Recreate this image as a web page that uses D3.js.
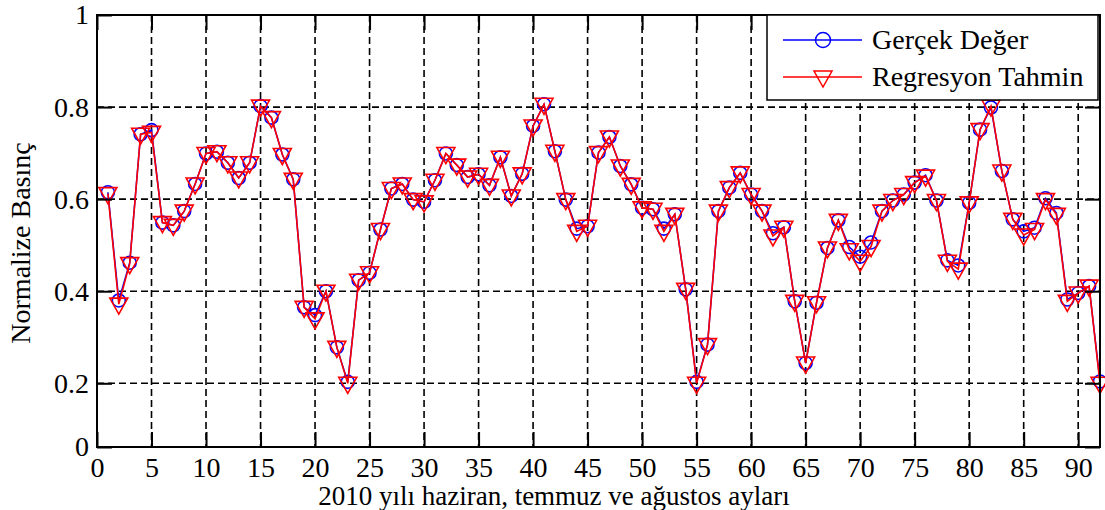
<!DOCTYPE html>
<html>
<head>
<meta charset="utf-8">
<script src="https://cdn.jsdelivr.net/npm/d3@7"></script>
<style>
  html, body { margin: 0; padding: 0; background: #fff; }
  svg { display: block; }
  text { font-family: "Liberation Serif", "Times New Roman", serif; fill: #000; }
</style>
</head>
<body>
<svg id="chart" width="1105" height="510"></svg>
<script>
// Daily normalized pressure, June–August 2010 (days 1..92)
const days = d3.range(1, 93);

const actualValues = [
  0.615, 0.380, 0.462, 0.741, 0.750, 0.549, 0.543, 0.574, 0.633, 0.699,
  0.703, 0.679, 0.646, 0.679, 0.802, 0.777, 0.697, 0.643, 0.365, 0.348,
  0.400, 0.278, 0.203, 0.424, 0.440, 0.534, 0.623, 0.633, 0.599, 0.594,
  0.641, 0.699, 0.674, 0.648, 0.654, 0.630, 0.691, 0.607, 0.655, 0.759,
  0.806, 0.704, 0.599, 0.536, 0.541, 0.701, 0.735, 0.672, 0.632, 0.581,
  0.578, 0.536, 0.567, 0.404, 0.203, 0.284, 0.574, 0.625, 0.657, 0.610,
  0.574, 0.526, 0.539, 0.378, 0.244, 0.375, 0.494, 0.554, 0.496, 0.475,
  0.506, 0.574, 0.597, 0.610, 0.636, 0.652, 0.597, 0.467, 0.456, 0.592,
  0.751, 0.799, 0.661, 0.556, 0.530, 0.538, 0.602, 0.570, 0.382, 0.396,
  0.411, 0.204
];

const predictedValues = [
  0.612, 0.372, 0.460, 0.741, 0.745, 0.549, 0.543, 0.574, 0.633, 0.699,
  0.703, 0.679, 0.646, 0.679, 0.802, 0.777, 0.697, 0.643, 0.365, 0.340,
  0.400, 0.278, 0.200, 0.424, 0.440, 0.534, 0.623, 0.633, 0.599, 0.594,
  0.641, 0.699, 0.674, 0.648, 0.654, 0.630, 0.691, 0.607, 0.655, 0.759,
  0.806, 0.704, 0.599, 0.530, 0.541, 0.701, 0.735, 0.672, 0.632, 0.581,
  0.578, 0.530, 0.567, 0.404, 0.200, 0.284, 0.574, 0.625, 0.657, 0.610,
  0.574, 0.520, 0.539, 0.378, 0.244, 0.375, 0.494, 0.554, 0.490, 0.465,
  0.497, 0.574, 0.597, 0.610, 0.636, 0.650, 0.597, 0.465, 0.448, 0.592,
  0.751, 0.802, 0.661, 0.556, 0.522, 0.534, 0.599, 0.567, 0.378, 0.396,
  0.411, 0.200
];

const xTicks = d3.range(0, 91, 5);
const yTicks = [0, 0.2, 0.4, 0.6, 0.8, 1];
const yTickLabels = ["0", "0.2", "0.4", "0.6", "0.8", "1"];

const seriesNames = ["Gerçek Değer", "Regresyon Tahmin"];
const xTitle = "2010 yılı haziran, temmuz ve ağustos ayları";
const yTitle = "Normalize Basınç";

const svg = d3.select("#chart");
const plotLeft = 97, plotRight = 1100, plotTop = 15, plotBottom = 447;

const x = d3.scaleLinear().domain([0, 92]).range([plotLeft, plotRight]);
// lower segment of the axis is compressed below 0.2
const y = d3.scaleLinear().domain([0, 0.2, 1]).range([plotBottom, 383.3, plotTop]);

const FONT = 28;

// grid
const grid = svg.append("g").attr("stroke", "#000").attr("stroke-width", 1.6)
  .attr("stroke-dasharray", "7,4");
grid.selectAll("line.vx").data(xTicks.filter(d => d > 0)).join("line")
  .attr("class", "vx")
  .attr("x1", d => x(d)).attr("x2", d => x(d))
  .attr("y1", plotTop).attr("y2", plotBottom);
grid.selectAll("line.hy").data(yTicks.filter(d => d > 0 && d < 1)).join("line")
  .attr("class", "hy")
  .attr("x1", plotLeft).attr("x2", plotRight)
  .attr("y1", d => y(d)).attr("y2", d => y(d));

// series
const actual = days.map((d, i) => ({ x: d, y: actualValues[i] }));
const predicted = days.map((d, i) => ({ x: d, y: predictedValues[i] }));
const line = d3.line().x(d => x(d.x)).y(d => y(d.y));

const triPath = "M-9,-6 L9,-6 L0,10 Z";

svg.append("path").datum(actual).attr("d", line)
  .attr("fill", "none").attr("stroke", "#0000ff").attr("stroke-width", 1.5);
svg.append("g").selectAll("circle").data(actual).join("circle")
  .attr("cx", d => x(d.x)).attr("cy", d => y(d.y)).attr("r", 6.5)
  .attr("fill", "none").attr("stroke", "#0000ff").attr("stroke-width", 1.6);

svg.append("path").datum(predicted).attr("d", line)
  .attr("fill", "none").attr("stroke", "#ff0000").attr("stroke-width", 1.6);
svg.append("g").selectAll("path").data(predicted).join("path")
  .attr("transform", d => `translate(${x(d.x)},${y(d.y)})`)
  .attr("d", triPath)
  .attr("fill", "none").attr("stroke", "#ff0000").attr("stroke-width", 1.6);

// axes (ticks pointing inward on all four sides)
const tickLen = 15;
const axB = d3.axisBottom(x).tickValues(xTicks).tickSizeInner(-tickLen).tickSizeOuter(0).tickPadding(10);
const axT = d3.axisTop(x).tickValues(xTicks).tickSizeInner(-tickLen).tickSizeOuter(0).tickFormat("");
const axL = d3.axisLeft(y).tickValues(yTicks).tickSizeInner(-tickLen).tickSizeOuter(0).tickPadding(8)
  .tickFormat((d, i) => yTickLabels[i]);
const axR = d3.axisRight(y).tickValues(yTicks).tickSizeInner(-tickLen).tickSizeOuter(0).tickFormat("");

function styleAxis(g) {
  g.select(".domain").remove();
  g.selectAll(".tick line").attr("stroke", "#000").attr("stroke-width", 2);
  g.selectAll(".tick text").style("font-family", "Liberation Serif, Times New Roman, serif")
    .style("font-size", FONT + "px").attr("fill", "#000");
}
svg.append("g").attr("transform", `translate(0,${plotBottom})`).call(axB).call(styleAxis);
svg.append("g").attr("transform", `translate(0,${plotTop})`).call(axT).call(styleAxis);
svg.append("g").attr("transform", `translate(${plotLeft},0)`).call(axL).call(styleAxis);
svg.append("g").attr("transform", `translate(${plotRight},0)`).call(axR).call(styleAxis);

svg.append("rect").attr("x", plotLeft).attr("y", plotTop)
  .attr("width", plotRight - plotLeft).attr("height", plotBottom - plotTop)
  .attr("fill", "none").attr("stroke", "#000").attr("stroke-width", 2);

// axis titles
svg.append("text").attr("x", 554).attr("y", 505)
  .attr("text-anchor", "middle").style("font-size", "27px").text(xTitle);
svg.append("text")
  .attr("transform", `translate(30,${243}) rotate(-90)`)
  .attr("text-anchor", "middle").style("font-size", FONT + "px").text(yTitle);

// legend
const lg = svg.append("g");
lg.append("rect").attr("x", 767).attr("y", 15).attr("width", 331).attr("height", 85)
  .attr("fill", "#fff").attr("stroke", "#000").attr("stroke-width", 1.5);
const legendRows = [
  { name: seriesNames[0], color: "#0000ff", marker: "circle", yy: 40 },
  { name: seriesNames[1], color: "#ff0000", marker: "tri", yy: 77 }
];
legendRows.forEach(r => {
  lg.append("line").attr("x1", 783).attr("x2", 862).attr("y1", r.yy).attr("y2", r.yy)
    .attr("stroke", r.color).attr("stroke-width", 1.5);
  if (r.marker === "circle") {
    lg.append("circle").attr("cx", 823).attr("cy", r.yy).attr("r", 7.5)
      .attr("fill", "none").attr("stroke", r.color).attr("stroke-width", 1.5);
  } else {
    lg.append("path").attr("transform", `translate(823,${r.yy})`).attr("d", triPath)
      .attr("fill", "none").attr("stroke", r.color).attr("stroke-width", 1.5);
  }
  lg.append("text").attr("x", 872).attr("y", r.yy + 9).style("font-size", FONT + "px").text(r.name);
});
</script>
</body>
</html>
